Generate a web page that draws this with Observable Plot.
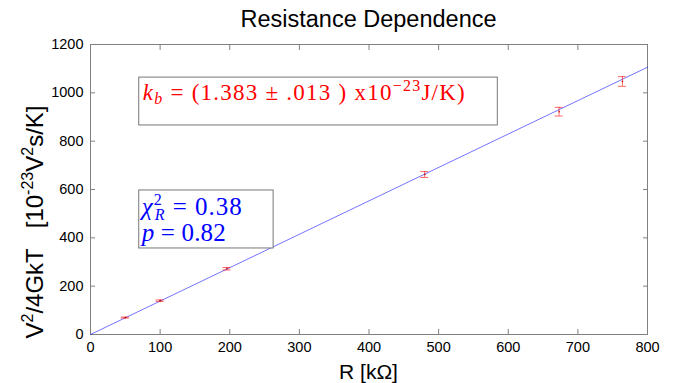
<!DOCTYPE html>
<html><head><meta charset="utf-8">
<script src="https://cdn.jsdelivr.net/npm/d3@7"></script>
<script src="https://cdn.jsdelivr.net/npm/@observablehq/plot@0.6"></script>
<style>
body{margin:0;background:#fff;font-family:"Liberation Sans",Arial,sans-serif;}
#title{height:32px;width:678px;box-sizing:border-box;padding:8px 31px 0 90px;text-align:center;font-size:23.5px;line-height:23.5px;color:#000;overflow:visible;}
#chart svg{display:block;}
</style></head><body>
<div id="title">Resistance Dependence</div>
<div id="chart"></div>
<script>
// Data
const resistance = [50, 100, 196, 480, 673, 764];          // kΩ
const noisePower = [70, 140, 272, 662, 922, 1047];          // 10^-23 V^2 s/K
const noiseErr   = [2, 3, 5, 12, 18, 20];
const fitX = [0, 800];
const fitY = [0, 1106];
const xTicks = [0, 100, 200, 300, 400, 500, 600, 700, 800];
const yTicks = [0, 200, 400, 600, 800, 1000, 1200];

const points = resistance.map((r, i) => ({r, v: noisePower[i], lo: noisePower[i] - noiseErr[i], hi: noisePower[i] + noiseErr[i]}));
const fit = fitX.map((x, i) => ({x, y: fitY[i]}));
const boxes = [
  {x1: 70, x2: 585, y1: 865, y2: 1063},
  {x1: 70, x2: 263, y1: 356, y2: 596}
];

const axisGray = "#808080";
const plot = Plot.plot({
  width: 678, height: 351,
  marginTop: 12, marginLeft: 90, marginRight: 31, marginBottom: 49,
  x: {domain: [0, 800]},
  y: {domain: [0, 1200]},
  style: {fontFamily: "'Liberation Sans', Arial, sans-serif", fontSize: "14.5px", color: "#000", background: "#fff"},
  marks: [
    Plot.frame({stroke: axisGray}),
    Plot.axisX({ticks: xTicks, tickSize: -5, tickPadding: 12, stroke: axisGray, label: null, tickFormat: d3.format("d")}),
    Plot.axisX({ticks: xTicks, anchor: "top", tickSize: -5, tickFormat: () => "", stroke: axisGray, label: null}),
    Plot.axisY({ticks: yTicks, tickSize: -5, tickPadding: 12, stroke: axisGray, label: null, tickFormat: d3.format("d")}),
    Plot.axisY({ticks: yTicks, anchor: "right", tickSize: -5, tickFormat: () => "", stroke: axisGray, label: null}),
    Plot.line(fit, {x: "x", y: "y", stroke: "#0000ff", strokeOpacity: 0.55, strokeWidth: 1}),
    Plot.ruleX(points, {x: "r", y1: "lo", y2: "hi", stroke: "red", strokeOpacity: 0.6}),
    Plot.ruleY(points, {y: "lo", x1: "r", x2: "r", insetLeft: -4, insetRight: -4, stroke: "red", strokeOpacity: 0.6}),
    Plot.ruleY(points, {y: "hi", x1: "r", x2: "r", insetLeft: -4, insetRight: -4, stroke: "red", strokeOpacity: 0.6}),
    Plot.dot(points, {x: "r", y: "v", r: 0.8, fill: "#b00000", stroke: null}),
    Plot.rect(boxes, {x1: "x1", x2: "x2", y1: "y1", y2: "y2", fill: "white", stroke: "#777", strokeWidth: 1})
  ]
});
document.getElementById("chart").appendChild(plot);

const svg = d3.select(plot);
const sx = plot.scale("x"), sy = plot.scale("y");
const serif = "'Liberation Serif', 'DejaVu Serif', serif";
const sans = "'Liberation Sans', Arial, sans-serif";

function mk(x, y, size, color, family) {
  return svg.append("text").attr("x", x).attr("y", y).attr("text-anchor", "start")
    .attr("font-size", size).attr("fill", color).attr("font-family", family);
}

// y-axis label (rotated)
const yl = svg.append("text").attr("text-anchor", "middle")
  .attr("transform", "translate(43,190) rotate(-90)")
  .attr("font-size", 24).attr("fill", "#000").attr("font-family", sans);
yl.append("tspan").text("V");
yl.append("tspan").attr("dy", -10).attr("font-size", 16).text("2");
yl.append("tspan").attr("dy", 10).text("/4GkT\u00a0\u00a0\u00a0[10");
yl.append("tspan").attr("dy", -10).attr("font-size", 16).text("-23");
yl.append("tspan").attr("dy", 10).text("V");
yl.append("tspan").attr("dy", -10).attr("font-size", 16).text("2");
yl.append("tspan").attr("dy", 10).text("s/K]");

// x-axis label
mk((sx.apply(0) + sx.apply(800)) / 2, 347, 21, "#000", sans).attr("text-anchor", "middle").text("R [kΩ]");

// red annotation
const t1 = mk(sx.apply(70) + 4, sy.apply(1063) + 23, 23, "#ff0000", serif)
  .attr("textLength", 322).attr("lengthAdjust", "spacing");
t1.append("tspan").attr("font-style", "italic").text("k");
t1.append("tspan").attr("font-style", "italic").attr("font-size", 16).attr("dy", 4).text("b");
t1.append("tspan").attr("dy", -4).text("\u00a0=\u00a0(1.383\u00a0±\u00a0.013\u00a0)\u00a0x10");
t1.append("tspan").attr("font-size", 16).attr("dy", -9).text("−23");
t1.append("tspan").attr("dy", 9).text("J/K)");

// blue annotation
const bx = sx.apply(70) + 3, by = sy.apply(596);
const t2 = mk(bx, by + 25, 25, "#0000ff", serif).attr("textLength", 100).attr("lengthAdjust", "spacing");
t2.append("tspan").attr("font-style", "italic").text("χ");
t2.append("tspan").attr("font-size", 16).attr("dy", -10).text("2");
t2.append("tspan").attr("font-size", 16).attr("font-style", "italic").attr("dx", -8).attr("dy", 15).text("R");
t2.append("tspan").attr("dy", -5).text("\u00a0=\u00a00.38");
const t3 = mk(bx, by + 51, 25, "#0000ff", serif).attr("textLength", 84).attr("lengthAdjust", "spacing");
t3.append("tspan").attr("font-style", "italic").text("p");
t3.append("tspan").text("\u00a0=\u00a00.82");
</script>
</body></html>
